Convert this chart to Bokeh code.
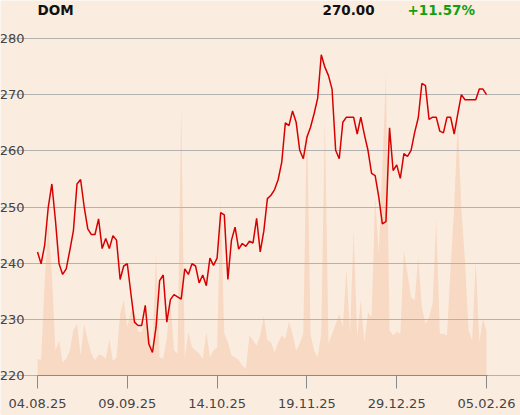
from bokeh.plotting import figure
from bokeh.models import Range1d, LinearAxis, FixedTicker, Label
from bokeh.embed import file_html
from bokeh.resources import INLINE

tick_positions = [0, 25, 50, 75, 100, 125]
tick_labels = ["04.08.25", "09.09.25", "14.10.25", "19.11.25", "29.12.25", "05.02.26"]

prices = [
    242.0, 239.9, 243.2, 250.0, 254.1, 247.6, 239.9, 238.0, 239.0, 242.3,
    245.8, 254.1, 254.9, 250.0, 246.1, 245.1, 245.1, 247.9, 242.6, 244.4,
    242.6, 244.9, 244.1, 237.1, 239.5, 239.9, 234.6, 229.5, 228.9, 228.9,
    232.5, 225.6, 224.1, 228.6, 236.9, 237.9, 229.5, 233.5, 234.4, 234.0,
    233.6, 239.0, 238.0, 239.9, 239.5, 236.5, 237.9, 236.0, 240.9, 239.6,
    240.9, 249.0, 248.6, 237.1, 244.1, 246.4, 242.5, 243.5, 243.0, 243.9,
    243.6, 248.0, 242.0, 245.7, 251.5, 252.1, 253.1, 254.9, 258.0, 265.0,
    264.5, 267.1, 265.1, 260.1, 258.6, 262.4, 264.2, 266.6, 269.4, 277.1,
    274.9, 273.4, 271.0, 260.1, 258.6, 265.1, 266.0, 266.0, 266.0, 263.0,
    266.0, 262.9, 260.1, 256.0, 255.6, 251.8, 247.0, 247.4, 264.1, 256.5,
    257.5, 255.1, 259.5, 259.0, 260.1, 263.3, 265.9, 272.0, 271.6, 265.6,
    266.0, 266.0, 263.5, 263.2, 266.0, 266.0, 263.0, 266.6, 270.0, 269.1,
    269.1, 269.1, 269.1, 271.0, 271.0, 270.0,
]

volumes = [
    5.0, 4.5, 28.0, 45.0, 30.0, 7.4, 10.4, 3.9, 5.0, 7.4,
    13.4, 15.3, 5.9, 15.3, 10.4, 6.5, 4.5, 6.2, 5.9, 5.0,
    10.7, 4.3, 5.4, 18.3, 22.5, 14.3, 19.0, 19.0, 13.0, 13.0,
    16.0, 12.0, 7.4, 36.0, 5.4, 5.0, 11.4, 22.0, 7.4, 6.5,
    80.0, 5.0, 12.9, 8.4, 7.4, 6.5, 5.0, 12.9, 5.4, 7.4,
    8.4, 53.0, 12.5, 9.9, 5.9, 5.4, 4.5, 3.0, 2.0, 11.9,
    10.4, 8.9, 11.9, 17.8, 10.4, 9.9, 6.9, 9.9, 11.9, 10.9,
    16.0, 12.4, 7.4, 9.4, 12.4, 77.6, 12.4, 7.4, 5.4, 12.4,
    76.6, 9.4, 12.4, 15.3, 18.3, 14.3, 31.7, 12.4, 43.0, 11.4,
    22.3, 9.9, 18.8, 17.3, 52.9, 36.1, 61.8, 89.5, 13.4, 11.9,
    12.9, 12.4, 37.1, 30.2, 23.2, 22.3, 35.1, 20.3, 15.3, 17.3,
    21.3, 46.5, 12.4, 12.4, 11.9, 32.1, 49.9, 75.7, 49.9, 34.1,
    13.4, 10.4, 34.1, 9.9, 16.8, 13.4,
]

symbol = "DOM"
last_price = "270.00"
change_text = "+11.57%"

y_ticks = [220, 230, 240, 250, 260, 270, 280]

idx = list(range(len(prices)))

BG = "#fbece0"
FONT = "DejaVu Sans"
X_END = 125.28

p = figure(
    width=520, height=415,
    x_range=Range1d(-10.30, 134.46), y_range=Range1d(212.88, 286.77),
    output_backend="svg", toolbar_location=None,
    min_border_left=0, min_border_right=0, min_border_top=0, min_border_bottom=0,
    background_fill_color=BG, border_fill_color=BG, outline_line_color=None,
    x_axis_location=None, y_axis_location=None,
)

p.extra_y_ranges = {"vol": Range1d(-11.87, 111.28)}

p.varea(x=idx, y1=[0] * len(volumes), y2=volumes, y_range_name="vol",
        fill_color="#f8d9c3", fill_alpha=1.0, level="image")

p.line(idx, prices, line_color="#d70000", line_width=1.5)

xaxis = LinearAxis(
    ticker=FixedTicker(ticks=tick_positions),
    major_label_overrides={t: l for t, l in zip(tick_positions, tick_labels)},
    fixed_location=220, bounds=(0, X_END),
    axis_line_color="#8a8a8a", major_tick_line_color="#8a8a8a",
    major_tick_out=13, major_tick_in=0, minor_tick_line_color=None,
    major_label_standoff=10,
    major_label_text_font=FONT, major_label_text_font_size="13px",
    major_label_text_color="#444444",
)
p.add_layout(xaxis, "below")

yaxis = LinearAxis(
    ticker=FixedTicker(ticks=y_ticks),
    fixed_location=0,
    axis_line_color=None, major_tick_line_color=None, minor_tick_line_color=None,
    major_label_standoff=7,
    major_label_text_font=FONT, major_label_text_font_size="13px",
    major_label_text_color="#444444",
)
p.add_layout(yaxis, "left")

p.xgrid.grid_line_color = None
p.ygrid.grid_line_color = "#b2b2b2"
p.ygrid.grid_line_width = 1
p.ygrid.ticker = FixedTicker(ticks=y_ticks)
p.ygrid.bounds = (0, X_END)

title_y = 285.05
for x, txt, col in [(0, symbol, "#111111"), (79.34, last_price, "#111111"), (103.0, change_text, "#12a012")]:
    p.add_layout(Label(x=x, y=title_y, text=txt, text_font=FONT, text_font_style="bold",
                       text_font_size="13.5px", text_color=col, text_baseline="alphabetic"))

open("out.html", "w").write(file_html(p, INLINE))
